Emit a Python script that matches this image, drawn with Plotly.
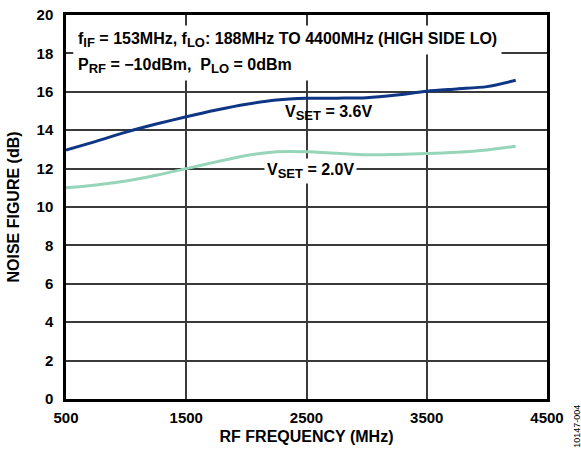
import plotly.graph_objects as go

freq_mhz = [500, 750, 1000, 1250, 1500, 1750, 2000, 2250, 2500, 2750, 3000, 3250, 3500, 3750, 4000, 4240]
nf_vset_36 = [12.96, 13.42, 13.9, 14.32, 14.7, 15.05, 15.35, 15.57, 15.66, 15.67, 15.69, 15.83, 16.03, 16.15, 16.27, 16.6]
nf_vset_20 = [11.0, 11.15, 11.35, 11.65, 12.0, 12.35, 12.68, 12.88, 12.88, 12.8, 12.72, 12.74, 12.78, 12.85, 12.97, 13.16]

x_ticks = [500, 1500, 2500, 3500, 4500]
y_ticks = [0, 2, 4, 6, 8, 10, 12, 14, 16, 18, 20]

FONT = "Liberation Sans, Arial, sans-serif"
BLUE = "#0f3585"
GREEN = "#97d5ba"


def sub(t):
    return '<sub><span style="font-size:13px">' + t + '</span></sub>'


fig = go.Figure()
fig.add_trace(go.Scatter(x=freq_mhz, y=nf_vset_36, mode="lines",
                         line=dict(color=BLUE, width=3, shape="spline", smoothing=0.8),
                         showlegend=False, hoverinfo="skip"))
fig.add_trace(go.Scatter(x=freq_mhz, y=nf_vset_20, mode="lines",
                         line=dict(color=GREEN, width=3, shape="spline", smoothing=0.8),
                         showlegend=False, hoverinfo="skip"))

axis_common = dict(
    showline=True, mirror=True, linecolor="black", linewidth=2.5,
    showgrid=True, gridcolor="#3a3a3a", gridwidth=1.5,
    zeroline=False, ticks="",
    tickfont=dict(family=FONT, size=15, color="black", weight="bold"),
    automargin=False,
)
title_font = dict(family=FONT, size=16, color="black", weight="bold")

fig.update_xaxes(range=[500, 4500], tickvals=x_ticks, ticktext=[str(v) for v in x_ticks],
                 ticklabelstandoff=3,
                 title=dict(text="RF FREQUENCY (MHz)", standoff=7, font=title_font),
                 **axis_common)
fig.update_yaxes(range=[0, 20], tickvals=y_ticks, ticktext=[str(v) for v in y_ticks],
                 ticklabelstandoff=7,
                 title=dict(text="NOISE FIGURE (dB)", standoff=13, font=title_font),
                 **axis_common)

ann_font = dict(family=FONT, size=16, color="black", weight="bold")
fig.add_annotation(xref="paper", yref="paper", x=0.0146, y=0.934, xanchor="left", yanchor="middle",
                   text="f" + sub("IF") + " = 153MHz, f" + sub("LO") + ": 188MHz TO 4400MHz (HIGH SIDE LO)",
                   showarrow=False, font=ann_font, bgcolor="white", borderpad=4)
fig.add_annotation(xref="paper", yref="paper", x=0.0146, y=0.868, xanchor="left", yanchor="middle",
                   text="P" + sub("RF") + " = \u221210dBm,\u00a0 P" + sub("LO") + " = 0dBm\u00a0\u00a0\u00a0\u00a0",
                   showarrow=False, font=ann_font, bgcolor="white", borderpad=4)
fig.add_annotation(x=2683, y=14.9, xref="x", yref="y",
                   text="V" + sub("SET") + " = 3.6V", showarrow=False, font=ann_font)
fig.add_annotation(x=2537, y=11.9, xref="x", yref="y",
                   text="V" + sub("SET") + " = 2.0V", showarrow=False, font=ann_font,
                   bgcolor="white", borderpad=2)
fig.add_annotation(xref="paper", yref="paper", x=1.062, y=-0.07, xanchor="center", yanchor="middle",
                   text="10147-004", textangle=-90, showarrow=False,
                   font=dict(family=FONT, size=9, color="black"))

fig.update_layout(
    width=581, height=450,
    margin=dict(l=66, r=34, t=15, b=51),
    paper_bgcolor="white", plot_bgcolor="white",
    font=dict(family=FONT, color="black"),
)

fig.write_html("out.html")
